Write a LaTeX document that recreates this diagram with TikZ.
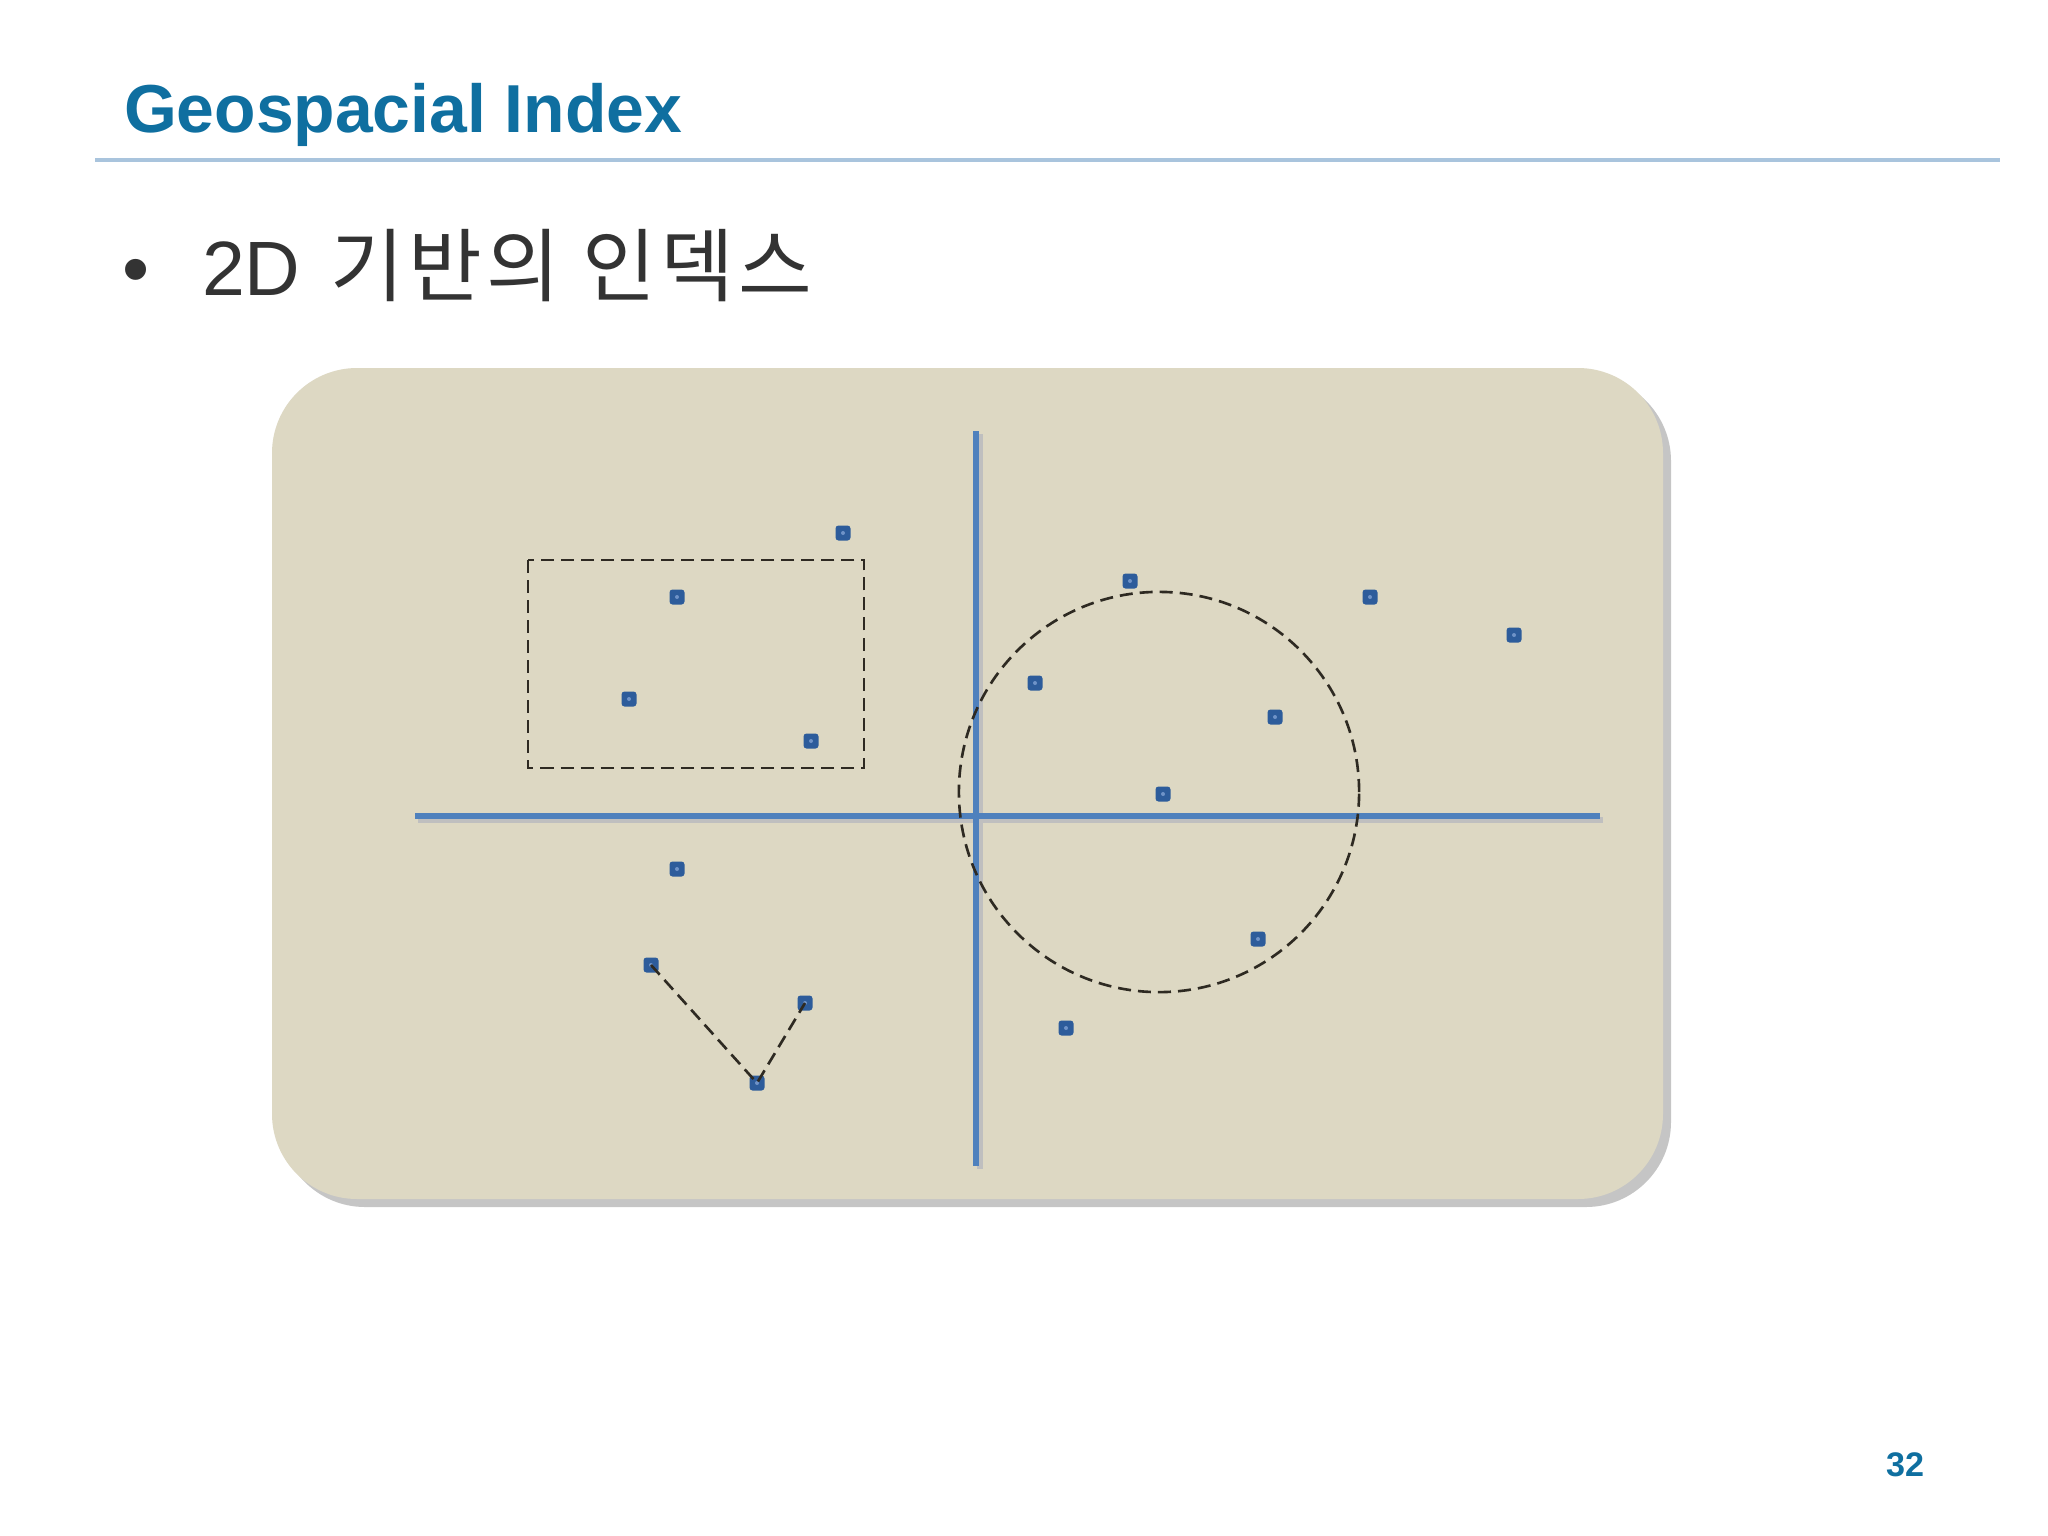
\documentclass[tikz,border=0pt]{standalone}
\usepackage{fontspec}
\setmainfont{Liberation Sans}
\newfontfamily\krfont{Noto Sans CJK KR}[Scale=1.04,LetterSpace=5.5]
\usetikzlibrary{positioning,shadows}

\definecolor{titleblue}{HTML}{0F6FA0}
\definecolor{rulecol}{HTML}{A9C4DD}
\definecolor{textgray}{HTML}{333333}
\definecolor{panelcol}{HTML}{DDD8C3}
\definecolor{axisblue}{HTML}{4F81BD}
\definecolor{ptblue}{HTML}{2D5C9B}
\definecolor{ptdot}{HTML}{6F93C8}
\definecolor{fencecol}{HTML}{2E2A22}

\begin{document}
\begin{tikzpicture}[x=0.01cm,y=-0.01cm,
every node/.style={inner sep=0pt,outer sep=0pt},
pt/.style={fill=ptblue,rounded corners=0.03cm,minimum size=0.15cm,
  path picture={\fill[ptdot] (path picture bounding box.center) circle (0.02cm);}},
axis/.style={draw=axisblue,line width=1.6pt},
axshade/.style={draw=black!25,line width=1.6pt},
fence/.style={draw=fencecol,line width=0.75pt,dash pattern=on 3.7pt off 2pt}]
\useasboundingbox[fill=white] (0,0) rectangle (2048,1536);

% heading
\node[anchor=base west,font=\bfseries\fontsize{19.3pt}{23pt}\selectfont,text=titleblue] (title) at (124,132) {Geospacial Index};
\draw[rulecol,line width=1.15pt] (95,160) -- (2000,160);
\node[font=\fontsize{22pt}{26pt}\selectfont,text=textgray] (bul) at (136,277) {•};
\node[anchor=base west,font=\fontsize{21.9pt}{26pt}\selectfont,text=textgray] (sub) at (202,295) {2D\hspace*{0.3cm}{\krfont 기반의 인덱스}};
\node[font=\bfseries\fontsize{9.7pt}{12pt}\selectfont,text=titleblue] (pgno) at (1905,1465) {32};

% panel
\fill[panelcol,rounded corners=0.85cm,drop shadow={shadow xshift=0.08cm,shadow yshift=-0.08cm,opacity=0.45}] (272,368) rectangle (1663,1199);

% axes
\coordinate (ax-top) at (976,431);
\coordinate (ax-bot) at (976,1166);
\coordinate (ax-left) at (415,816);
\coordinate (ax-right) at (1600,816);
\draw[axshade] ([shift={(3,4)}]ax-left) -- ([shift={(3,4)}]ax-right);
\draw[axshade] ([shift={(4,3)}]ax-top) -- ([shift={(4,3)}]ax-bot);
\draw[axis] (ax-left) -- (ax-right);
\draw[axis] (ax-top) -- (ax-bot);

% range and radius queries
\draw[fence] (528,560) rectangle (864,768);
\draw[fence] (1159,792) circle (2cm);

% points
\foreach \nm/\px/\py in {tl1/843/533,tl2/677/597,tl3/629/699,tl4/811/741,
  tr1/1130/581,tr2/1370/597,tr3/1514/635,tr4/1035/683,tr5/1275/717,tr6/1163/794,
  bl1/677/869,bl2/651/965,bl3/805/1003,bl4/757/1083,
  br1/1258/939,br2/1066/1028}
  \node[pt] (\nm) at (\px,\py) {};

% nearest path
\draw[fence] (bl2.center) -- (bl4.center) -- (bl3.center);

\end{tikzpicture}
\end{document}
